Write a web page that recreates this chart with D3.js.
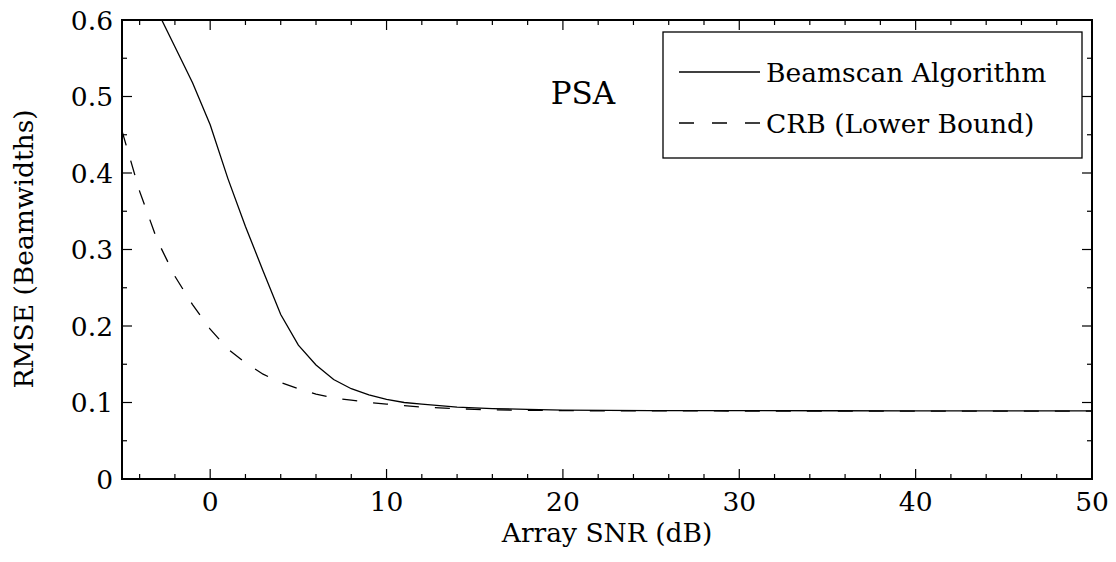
<!DOCTYPE html>
<html>
<head>
<meta charset="utf-8">
<script src="https://cdn.jsdelivr.net/npm/d3@7"></script>
<style>
  body { margin: 0; background: #fff; }
  svg text { font-family: "DejaVu Serif", "Liberation Serif", serif; fill: #000; }
</style>
</head>
<body>
<script>
// SNR grid (dB)
var snr = [-5, -4, -3, -2, -1, 0, 1, 2, 3, 4, 5, 6, 7, 8, 9, 10, 11, 12, 13, 14, 15, 16, 18, 20, 25, 30, 35, 40, 45, 50];

// Beamscan RMSE (beamwidths)
var beamscan = [0.70, 0.655, 0.612, 0.565, 0.518, 0.463, 0.393, 0.330, 0.272, 0.215, 0.175, 0.149, 0.130, 0.118,
                0.110, 0.104, 0.100, 0.098, 0.096, 0.094, 0.093, 0.092, 0.091, 0.090, 0.0895, 0.0893, 0.0892, 0.0891, 0.0891, 0.0891];

// CRB (lower bound)
var crb = [0.455, 0.376, 0.312, 0.265, 0.228, 0.196, 0.170, 0.152, 0.137, 0.126, 0.118, 0.111, 0.106, 0.103,
           0.100, 0.098, 0.096, 0.094, 0.093, 0.092, 0.091, 0.0905, 0.0898, 0.0893, 0.089, 0.0889, 0.0888, 0.0888, 0.0888, 0.0888];

var xTicks = [0, 10, 20, 30, 40, 50];
var yTicks = [0, 0.1, 0.2, 0.3, 0.4, 0.5, 0.6];
var seriesNames = ["Beamscan Algorithm", "CRB (Lower Bound)"];

var W = 1116, H = 562;
var pLeft = 122, pRight = 1092, pTop = 20, pBottom = 479;
var fs = 26.5;

var svg = d3.select("body").append("svg").attr("width", W).attr("height", H);

var x = d3.scaleLinear().domain([-5, 50]).range([pLeft, pRight]);
var y = d3.scaleLinear().domain([0, 0.6]).range([pBottom, pTop]);

svg.append("clipPath").attr("id", "clip")
  .append("rect").attr("x", pLeft).attr("y", pTop).attr("width", pRight - pLeft).attr("height", pBottom - pTop);

// curves
var line = d3.line()
  .x(function(d, i) { return x(snr[i]); })
  .y(function(d) { return y(d); });

var g = svg.append("g").attr("clip-path", "url(#clip)");
g.append("path").datum(beamscan).attr("d", line)
  .attr("fill", "none").attr("stroke", "#000").attr("stroke-width", 1.3);
g.append("path").datum(crb).attr("d", line)
  .attr("fill", "none").attr("stroke", "#000").attr("stroke-width", 1.3)
  .attr("stroke-dasharray", "15,16");

// axes (ticks inside, on all four sides)
var xMinor = d3.range(-4, 50, 2);
var yMinor = d3.range(0, 0.6001, 0.05);

function tickLen(v, major) { return major.some(function(m) { return Math.abs(m - v) < 1e-6; }) ? 10 : 5; }

var ax = svg.append("g").attr("stroke", "#000").attr("stroke-width", 1.2);
ax.selectAll(".xb").data(xMinor).enter().append("line")
  .attr("x1", function(d) { return x(d); }).attr("x2", function(d) { return x(d); })
  .attr("y1", pBottom).attr("y2", function(d) { return pBottom - tickLen(d, xTicks); });
ax.selectAll(".xt").data(xMinor).enter().append("line")
  .attr("x1", function(d) { return x(d); }).attr("x2", function(d) { return x(d); })
  .attr("y1", pTop).attr("y2", function(d) { return pTop + tickLen(d, xTicks); });
ax.selectAll(".yl").data(yMinor).enter().append("line")
  .attr("y1", function(d) { return y(d); }).attr("y2", function(d) { return y(d); })
  .attr("x1", pLeft).attr("x2", function(d) { return pLeft + tickLen(d, yTicks); });
ax.selectAll(".yr").data(yMinor).enter().append("line")
  .attr("y1", function(d) { return y(d); }).attr("y2", function(d) { return y(d); })
  .attr("x1", pRight).attr("x2", function(d) { return pRight - tickLen(d, yTicks); });

svg.append("rect").attr("x", pLeft).attr("y", pTop).attr("width", pRight - pLeft).attr("height", pBottom - pTop)
  .attr("fill", "none").attr("stroke", "#000").attr("stroke-width", 2);

// tick labels
svg.selectAll(".xl").data(xTicks).enter().append("text")
  .attr("x", function(d) { return x(d); }).attr("y", 511)
  .attr("text-anchor", "middle").attr("font-size", fs)
  .text(function(d) { return d; });
svg.selectAll(".ylab").data(yTicks).enter().append("text")
  .attr("x", 113).attr("y", function(d) { return y(d) + 9.5; })
  .attr("text-anchor", "end").attr("font-size", fs)
  .text(function(d) { return d === 0 ? "0" : d.toFixed(1); });

// axis titles
svg.append("text").attr("x", x(22.5)).attr("y", 542)
  .attr("text-anchor", "middle").attr("font-size", fs).text("Array SNR (dB)");
svg.append("text").attr("transform", "translate(33," + 249 + ") rotate(-90)")
  .attr("text-anchor", "middle").attr("font-size", fs).text("RMSE (Beamwidths)");

// annotation
svg.append("text").attr("x", 583).attr("y", 104)
  .attr("text-anchor", "middle").attr("font-size", 31).text("PSA");

// legend
var lg = svg.append("g");
lg.append("rect").attr("x", 663).attr("y", 32).attr("width", 419).attr("height", 126)
  .attr("fill", "#fff").attr("stroke", "#000").attr("stroke-width", 1.3);
var rows = [72, 123];
lg.selectAll(".ll").data(seriesNames).enter().append("line")
  .attr("x1", 679).attr("x2", 760)
  .attr("y1", function(d, i) { return rows[i]; }).attr("y2", function(d, i) { return rows[i]; })
  .attr("stroke", "#000").attr("stroke-width", 1.3)
  .attr("stroke-dasharray", function(d, i) { return i === 1 ? "15,18" : null; });
lg.selectAll(".lt").data(seriesNames).enter().append("text")
  .attr("x", 766).attr("y", function(d, i) { return rows[i] + 9.5; })
  .attr("font-size", fs)
  .text(function(d) { return d; });
</script>
</body>
</html>
